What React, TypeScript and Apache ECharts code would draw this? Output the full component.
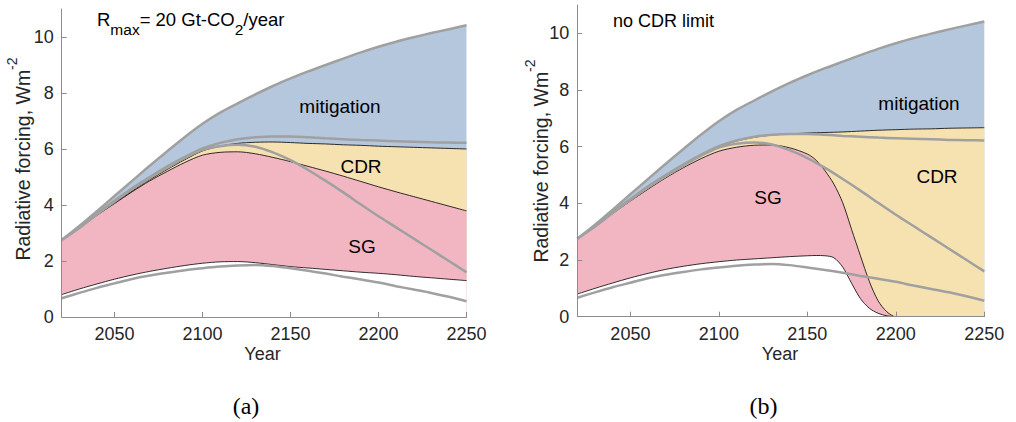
import React, { useEffect, useRef } from 'react';
import * as echarts from 'echarts';

// Years shared by most curves (decadal)
const YEARS = [2020, 2030, 2040, 2050, 2060, 2070, 2080, 2090, 2100, 2110, 2120, 2130,
  2140, 2150, 2160, 2170, 2180, 2190, 2200, 2210, 2220, 2230, 2240, 2250];

// Reference curves (grey), identical in both panels
const REF_TOP = [2.75, 3.25, 3.78, 4.32, 4.86, 5.4, 5.92, 6.43, 6.9, 7.3, 7.63, 7.95,
  8.25, 8.52, 8.77, 9.0, 9.23, 9.45, 9.65, 9.83, 9.99, 10.14, 10.28, 10.42];
const REF_PLATEAU = [2.75, 3.2, 3.7, 4.15, 4.6, 5.0, 5.38, 5.72, 6.02, 6.22, 6.35, 6.42,
  6.45, 6.45, 6.42, 6.38, 6.35, 6.32, 6.3, 6.28, 6.26, 6.24, 6.23, 6.22];
const REF_DECLINE = [2.75, 3.18, 3.66, 4.12, 4.56, 4.96, 5.33, 5.68, 5.97, 6.1, 6.15, 6.08,
  5.88, 5.6, 5.25, 4.86, 4.45, 4.02, 3.6, 3.2, 2.8, 2.4, 2.0, 1.6];
const REF_LOW = [0.67, 0.86, 1.04, 1.2, 1.36, 1.48, 1.58, 1.67, 1.74, 1.8, 1.84, 1.86,
  1.82, 1.74, 1.65, 1.55, 1.44, 1.34, 1.23, 1.1, 0.98, 0.86, 0.72, 0.56];

// Panel (a): R_max = 20 Gt-CO2/year
const A_SG_LOWER = [0.8, 1.0, 1.18, 1.35, 1.5, 1.63, 1.74, 1.84, 1.92, 1.97, 1.98, 1.94,
  1.87, 1.8, 1.75, 1.7, 1.65, 1.6, 1.56, 1.51, 1.45, 1.4, 1.35, 1.3];
const A_SG_UPPER = [2.75, 3.18, 3.63, 4.05, 4.47, 4.86, 5.2, 5.52, 5.78, 5.88, 5.9, 5.83,
  5.7, 5.55, 5.38, 5.21, 5.03, 4.84, 4.65, 4.47, 4.3, 4.13, 3.96, 3.79];
const A_CDR_UPPER = [2.75, 3.19, 3.65, 4.08, 4.5, 4.9, 5.27, 5.62, 5.93, 6.1, 6.2, 6.24,
  6.25, 6.23, 6.2, 6.18, 6.15, 6.13, 6.1, 6.08, 6.06, 6.04, 6.02, 6.0];

// Panel (b): no CDR limit
const B_YEARS = [2020, 2030, 2040, 2050, 2060, 2070, 2080, 2090, 2100, 2110, 2120, 2130,
  2140, 2150, 2155, 2160, 2165, 2170, 2175, 2180, 2185, 2190, 2195, 2200,
  2210, 2220, 2230, 2240, 2250];
const B_SG_LOWER = [0.8, 1.0, 1.19, 1.37, 1.53, 1.67, 1.78, 1.87, 1.94, 2.0, 2.04, 2.08,
  2.12, 2.15, 2.16, 2.15, 2.08, 1.75, 1.18, 0.64, 0.3, 0.12, 0.03, 0,
  0, 0, 0, 0, 0];
const B_SG_UPPER = [2.75, 3.18, 3.64, 4.08, 4.5, 4.9, 5.26, 5.58, 5.84, 5.98, 6.05, 6.06,
  5.96, 5.74, 5.52, 5.15, 4.68, 4.02, 3.08, 2.15, 1.25, 0.56, 0.17, 0,
  0, 0, 0, 0, 0];
const B_CDR_UPPER = [2.75, 3.19, 3.68, 4.13, 4.57, 4.97, 5.35, 5.7, 6.0, 6.2, 6.33, 6.41,
  6.45, 6.48, 6.5, 6.52, 6.55, 6.58, 6.6, 6.62, 6.63, 6.65, 6.66, 6.67];

const X_TICKS = [2050, 2100, 2150, 2200, 2250];
const Y_TICKS = [0, 2, 4, 6, 8, 10];

// Panel (a) heading, split into normal and subscript runs
const RMAX_RUNS: [string, boolean][] = [
  ['R', false], ['max', true], ['= 20 Gt-CO', false], ['2', true], ['/year', false],
];

const FONT = "'Liberation Sans', Arial, Helvetica, sans-serif";
const SERIF = "'Liberation Serif', 'Times New Roman', serif";
const INK = '#262626';
const AXIS_GRAY = '#8c8c8c';
const REF_GRAY = '#a0a0a0';
const BLUE = '#b5c7dd';
const YELLOW = '#f6e2b0';
const PINK = '#f2b6c3';

const zip = (xs: number[], ys: number[]) => xs.map((x, i) => [x, ys[i]]);

function areaSeries(gridIndex: number, data: number[][], color: string, z: number) {
  return {
    type: 'line', xAxisIndex: gridIndex, yAxisIndex: gridIndex, data, z,
    smooth: 0.3, symbol: 'none', lineStyle: { width: 0 },
    areaStyle: { color, opacity: 1, origin: 'start' },
    silent: true,
  };
}

function lineSeries(gridIndex: number, data: number[][], color: string, width: number, z: number) {
  return {
    type: 'line', xAxisIndex: gridIndex, yAxisIndex: gridIndex, data, z,
    smooth: 0.3, symbol: 'none', lineStyle: { color, width },
    silent: true,
  };
}

function panel(gridIndex: number, lowYears: number[], sgLower: number[], sgUpper: number[], cdrUpper: number[]) {
  return [
    areaSeries(gridIndex, zip(YEARS, REF_TOP), BLUE, 1),
    areaSeries(gridIndex, zip(YEARS, cdrUpper), YELLOW, 2),
    areaSeries(gridIndex, zip(lowYears, sgUpper), PINK, 3),
    areaSeries(gridIndex, zip(lowYears, sgLower), '#ffffff', 4),
    lineSeries(gridIndex, zip(YEARS, cdrUpper), '#000', 0.8, 5),
    lineSeries(gridIndex, zip(lowYears, sgUpper), '#000', 0.8, 5),
    lineSeries(gridIndex, zip(lowYears, sgLower), '#000', 0.8, 5),
    lineSeries(gridIndex, zip(YEARS, REF_TOP), REF_GRAY, 2.5, 6),
    lineSeries(gridIndex, zip(YEARS, REF_PLATEAU), REF_GRAY, 2.5, 6),
    lineSeries(gridIndex, zip(YEARS, REF_DECLINE), REF_GRAY, 2.5, 6),
    lineSeries(gridIndex, zip(YEARS, REF_LOW), REF_GRAY, 2.5, 6),
  ];
}

const axisCommon = {
  z: 10,
  axisLine: { show: true, lineStyle: { color: AXIS_GRAY, width: 1 } },
  splitLine: { show: false },
};

// Rotated axis title with a raised "-2" exponent: the base token is bottom-aligned in a
// tall line and the exponent is top-aligned, which lifts it above the main text.
function yTitle(x: number, y: number) {
  return {
    type: 'text', x, y, z: 100, rotation: Math.PI / 2,
    style: {
      text: '{b|Radiative forcing, Wm}{s|-2}',
      align: 'center', verticalAlign: 'middle',
      rich: {
        b: { fontSize: 19.5, fontFamily: FONT, fill: INK, lineHeight: 28, verticalAlign: 'bottom' },
        s: { fontSize: 14, fontFamily: FONT, fill: INK, lineHeight: 14, verticalAlign: 'top' },
      },
    },
  };
}

function plainText(text: string, x: number, y: number, size: number, align = 'center', family = FONT, color = '#000') {
  return {
    type: 'text', x, y, z: 100,
    style: { text, fontSize: size, fontFamily: family, fill: color, align, verticalAlign: 'middle' },
  };
}

// Lays out runs of normal / subscript text left to right from x0
function subscriptRuns(runs: [string, boolean][], x0: number, baseCenterY: number) {
  const ctx = document.createElement('canvas').getContext('2d');
  const BASE = 18.5;
  const SUB = 15.5;
  let x = x0;
  return runs.map(([text, sub]) => {
    const size = sub ? SUB : BASE;
    let w = text.length * size * 0.55;
    if (ctx) {
      ctx.font = `${size}px ${FONT}`;
      w = ctx.measureText(text).width;
    }
    const el = plainText(text, x, sub ? baseCenterY + 9.5 : baseCenterY, size, 'left');
    x += w;
    return el;
  });
}

export default function App() {
  const ref = useRef<HTMLDivElement>(null);

  useEffect(() => {
    if (!ref.current) return;
    const chart = echarts.init(ref.current, undefined, { renderer: 'svg' });
    const option = {
      animation: false,
      backgroundColor: '#ffffff',
      grid: [
        { left: 61.7, top: 9, width: 404.8, height: 308 },
        { left: 577.3, top: 5, width: 407, height: 311.7 },
      ],
      xAxis: [0, 1].map((i) => ({
        ...axisCommon,
        type: 'value', gridIndex: i, min: 2020, max: 2250,
        axisTick: { show: true, inside: true, length: 5, customValues: X_TICKS, lineStyle: { color: AXIS_GRAY } },
        axisLabel: {
          customValues: X_TICKS, color: INK, fontSize: 18, fontFamily: FONT, margin: 8,
          formatter: (v: number) => String(v),
        },
      })),
      yAxis: [0, 1].map((i) => ({
        ...axisCommon,
        type: 'value', gridIndex: i, min: 0, max: 11,
        axisTick: { show: true, inside: true, length: 5, customValues: Y_TICKS, lineStyle: { color: AXIS_GRAY } },
        axisLabel: {
          customValues: Y_TICKS, color: INK, fontSize: 18, fontFamily: FONT, margin: 8,
          formatter: (v: number) => String(v),
        },
      })),
      series: [
        ...panel(0, YEARS, A_SG_LOWER, A_SG_UPPER, A_CDR_UPPER),
        ...panel(1, B_YEARS, B_SG_LOWER, B_SG_UPPER, B_CDR_UPPER),
      ],
      graphic: [
        yTitle(19, 159),
        yTitle(537.3, 161),
        plainText('Year', 262.5, 354, 18, 'center', FONT, INK),
        plainText('Year', 780, 354, 18, 'center', FONT, INK),
        ...subscriptRuns(RMAX_RUNS, 97, 19.6),
        plainText('no CDR limit', 613, 21, 18, 'left'),
        plainText('mitigation', 340, 106, 19),
        plainText('CDR', 361, 166, 19),
        plainText('SG', 362, 246, 19),
        plainText('mitigation', 919, 103, 19),
        plainText('CDR', 937, 176, 19),
        plainText('SG', 768, 197, 19),
        plainText('(a)', 246, 406, 24, 'center', SERIF),
        plainText('(b)', 763.5, 406, 24, 'center', SERIF),
      ],
    };
    chart.setOption(option as any);
    return () => chart.dispose();
  }, []);

  return (
    <div
      ref={ref}
      style={{ position: 'fixed', left: 0, top: 0, width: 1016, height: 422, background: '#fff' }}
    />
  );
}
